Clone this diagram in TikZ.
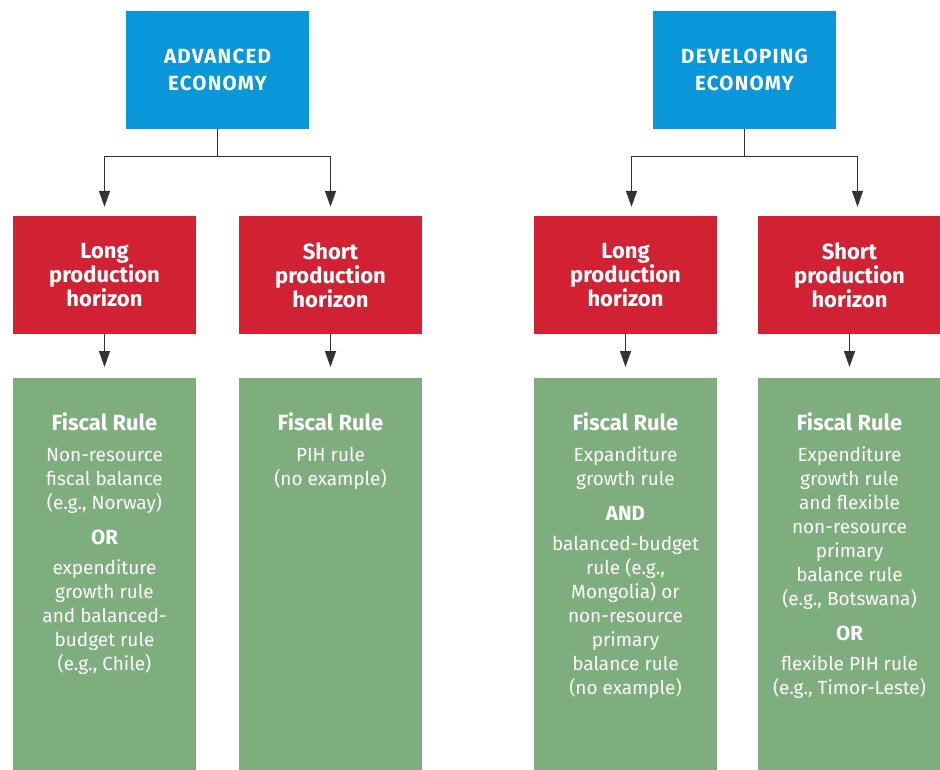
\documentclass[tikz,border=0pt]{standalone}
\usepackage{fontspec}
\setmainfont{Fira Sans}
\usepackage{tikz}
\usetikzlibrary{arrows.meta}
\definecolor{ecoblue}{HTML}{0A97D9}
\definecolor{horizonred}{HTML}{D12234}
\definecolor{rulegreen}{HTML}{7FAE7E}
\definecolor{linegray}{HTML}{333333}
\tikzstyle{economy} = [rectangle, fill=ecoblue, text=white, minimum width=183pt, minimum height=118pt, inner sep=0pt, align=center, font=\bfseries\fontsize{20.5}{27}\selectfont\addfontfeature{LetterSpace=6}]
\tikzstyle{horizon} = [rectangle, fill=horizonred, text=white, minimum width=183pt, minimum height=118pt, inner sep=0pt, align=center, font=\bfseries\fontsize{22}{24}\selectfont]
\tikzstyle{fiscal} = [rectangle, fill=rulegreen, text=white, minimum width=183pt, minimum height=392pt, inner sep=0pt, anchor=north]
\tikzstyle{line} = [draw=linegray, line width=1.3pt, -{Triangle[length=16pt,width=11pt]}]
\newcommand{\rulebox}[1]{\parbox[c][392pt][t]{183pt}{\centering\fontsize{19}{24}\selectfont\vspace*{34pt}#1\par}}
\newcommand{\rulehead}{{\bfseries\fontsize{22}{24}\selectfont Fiscal Rule}}
\newcommand{\ruleword}[1]{{\bfseries\fontsize{20.5}{24}\selectfont #1}}

\begin{document}
\begin{tikzpicture}[x=1pt, y=-1pt]
      \useasboundingbox (0,0) rectangle (940,770);
      \node [economy] (adveco) at (217.5,70) {ADVANCED\\ECONOMY};
      \node [economy] (deveco) at (744.5,70) {DEVELOPING\\ECONOMY};
      \node [horizon] (advlong) at (104.5,275) {Long\\production\\horizon};
      \node [horizon] (advshort) at (330.5,275) {Short\\production\\horizon};
      \node [horizon] (devlong) at (625.5,275) {Long\\production\\horizon};
      \node [horizon] (devshort) at (849.5,275) {Short\\production\\horizon};
      \node [fiscal] (advlongrule) at (104.5,378) {\rulebox{\rulehead\\[7pt]
        Non-resource\\ fiscal balance\\ (e.g., Norway)\\[11pt]
        \ruleword{OR}\\[6pt]
        expenditure\\ growth rule\\ and balanced-\\ budget rule\\ (e.g., Chile)}};
      \node [fiscal] (advshortrule) at (330.5,378) {\rulebox{\rulehead\\[7pt]
        PIH rule\\ (no example)}};
      \node [fiscal] (devlongrule) at (625.5,378) {\rulebox{\rulehead\\[7pt]
        Expanditure\\ growth rule\\[11pt]
        \ruleword{AND}\\[6pt]
        balanced-budget\\ rule (e.g.,\\ Mongolia) or\\ non-resource\\ primary\\ balance rule\\ (no example)}};
      \node [fiscal] (devshortrule) at (849.5,378) {\rulebox{\rulehead\\[7pt]
        Expenditure\\ growth rule\\ and flexible\\ non-resource\\ primary\\ balance rule\\ (e.g., Botswana)\\[11pt]
        \ruleword{OR}\\[6pt]
        flexible PIH rule\\ (e.g., Timor-Leste)}};

      \path [line, shorten >=9pt] (adveco.south) -- ++(0,27) -| (advlong.north);
      \path [line, shorten >=9pt] (adveco.south) -- ++(0,27) -| (advshort.north);
      \path [line, shorten >=9pt] (deveco.south) -- ++(0,27) -| ([xshift=6pt]devlong.north);
      \path [line, shorten >=9pt] (deveco.south) -- ++(0,27) -| ([xshift=8pt]devshort.north);
      \path [line, shorten >=11pt] (advlong.south) -- (advlongrule.north);
      \path [line, shorten >=11pt] (advshort.south) -- (advshortrule.north);
      \path [line, shorten >=11pt] (devlong.south) -- (devlongrule.north);
      \path [line, shorten >=11pt] (devshort.south) -- (devshortrule.north);
    \end{tikzpicture}
\end{document}
